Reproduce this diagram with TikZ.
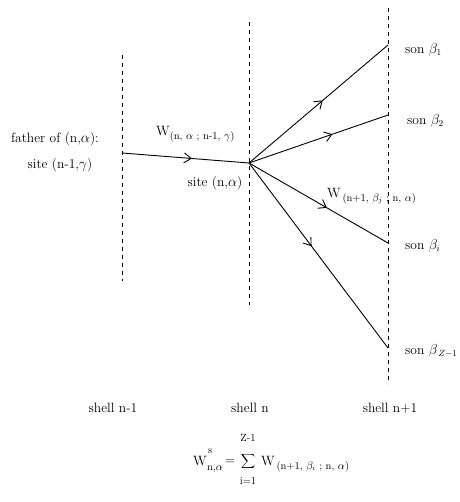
\documentclass[tikz,border=0pt]{standalone}
\usetikzlibrary{arrows.meta,decorations.markings}
\newcommand{\subsz}{\fontsize{10.5}{11.5}\selectfont}
\begin{document}
\begin{tikzpicture}[x=1pt,y=-1pt,
  shellline/.style={line width=1pt,dash pattern=on 4pt off 4pt},
  link/.style={line width=0.9pt,postaction={decorate},
    decoration={markings,mark=at position #1 with {\arrow{Straight Barb[length=7pt,width=10pt,line width=0.9pt]}}}},
  lbl/.style={inner sep=0pt,font=\fontsize{13.5}{15}\selectfont},
  small/.style={inner sep=0pt,font=\subsz},
]
\useasboundingbox (0,0) rectangle (459,502);
% shells
\draw[shellline] (122,55) -- (122,281);
\draw[shellline] (249,22) -- (249,305);
\draw[shellline] (388,8) -- (388,384);
% points
\coordinate (F) at (122,153);
\coordinate (S) at (249,163);
\coordinate (B1) at (388,45);
\coordinate (B2) at (388,115);
\coordinate (Bi) at (388,243);
\coordinate (BZ) at (388,348);
% connectors
\draw[link=0.55] (F) -- (S);
\draw[link=0.53] (S) -- (B1);
\draw[link=0.6] (S) -- (B2);
\draw[link=0.56] (S) -- (Bi);
\draw[link=0.45] (S) -- (BZ);
% labels
\node[lbl] (fath) at (55,139) {father of (n,$\alpha$):};
\node[lbl] (sitef) at (60,165) {site (n-1,$\gamma$)};
\node[lbl,anchor=west] (wf) at (156,134) {W\raisebox{-0.7ex}{\subsz(n, $\alpha$ ; n-1, $\gamma$)}};
\node[lbl] (sites) at (215,183) {site (n,$\alpha$)};
\node[lbl,anchor=west] (ws) at (327,196) {W\raisebox{-0.7ex}{\subsz\,(n+1, $\beta_j$ ; n, $\alpha$)}};
\node[lbl,anchor=west] (s1) at (405,50) {son $\beta_1$};
\node[lbl,anchor=west] (s2) at (407,121) {son $\beta_2$};
\node[lbl,anchor=west] (si) at (405,246) {son $\beta_i$};
\node[lbl,anchor=west] (sz) at (405,351) {son $\beta_{\,Z-1}$};
\node[lbl] (sh1) at (113,408) {shell n-1};
\node[lbl] (sh2) at (250,408) {shell n};
\node[lbl] (sh3) at (390,408) {shell n+1};
% formula
\node[lbl,anchor=base west] (fw) at (193,465) {W};
\node[small,anchor=west] (fsup) at (208,451) {s};
\node[small,anchor=west] (fsub) at (207,469) {n,$\alpha$};
\node[lbl] (feq) at (230,462) {=};
\node[inner sep=0pt,font=\fontsize{12.5}{14}\selectfont] (fsum) at (248,461) {$\displaystyle\sum$};
\node[small] (fup) at (248,438) {Z-1};
\node[small] (flo) at (248,481) {i=1};
\node[lbl,anchor=base west] (rhs) at (261,465) {W\raisebox{-0.7ex}{\subsz\,(n+1, $\beta_i$ ; n, $\alpha$)}};
\end{tikzpicture}
\end{document}
